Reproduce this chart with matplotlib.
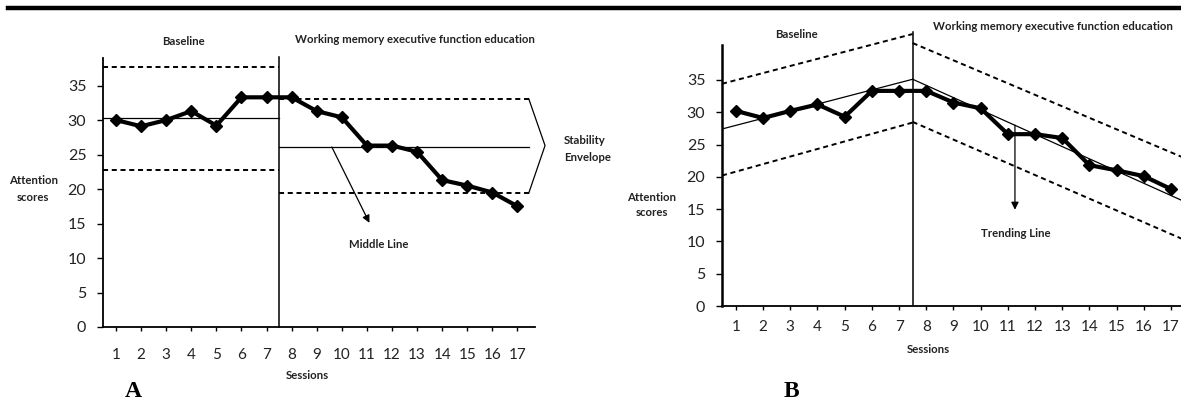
import matplotlib
matplotlib.use("Agg")
import matplotlib.pyplot as plt
from matplotlib.lines import Line2D

# ── data ─────────────────────────────────────────────────────────────────────
sessions = list(range(1, 18))
scores_a = [30.0, 29.1, 30.0, 31.3, 29.2, 33.3, 33.3, 33.3, 31.3, 30.4,
            26.3, 26.3, 25.4, 21.3, 20.5, 19.5, 17.5]
scores_b = [30.2, 29.1, 30.2, 31.2, 29.3, 33.3, 33.3, 33.3, 31.5, 30.6,
            26.6, 26.6, 26.0, 21.8, 21.0, 20.1, 18.1]

phase_x = 7.5

# panel A: middle lines and stability envelope (level per phase)
base_x_a = [0.48, 7.5]
treat_x_a = [7.5, 17.45]
base_mid_a, base_up_a, base_lo_a = 30.3, 37.7, 22.8
treat_mid_a, treat_up_a, treat_lo_a = 26.1, 33.1, 19.4

# panel B: trend lines and envelopes (end values per phase)
base_x_b = [0.49, 7.5]
treat_x_b = [7.5, 18.0]
base_trend_b = [27.4, 35.1]
base_up_b = [34.4, 42.1]
base_lo_b = [20.2, 28.4]
treat_trend_b = [35.1, 15.2]
treat_up_b = [40.7, 22.0]
treat_lo_b = [28.5, 9.3]

y_ticks = [0, 5, 10, 15, 20, 25, 30, 35]
# ─────────────────────────────────────────────────────────────────────────────

plt.rcParams["font.family"] = ["Lato", "DejaVu Sans"]

W, H = 1181, 401
fig = plt.figure(figsize=(W / 100, H / 100), dpi=100)


def place(px_left, px_right, px_bottom, px_top):
    return [px_left / W, 1 - px_bottom / H,
            (px_right - px_left) / W, (px_bottom - px_top) / H]


dash = (0, (2.6, 1.9))
lab = dict(fontsize=8.2, fontweight="bold", color="#222222")


def style_axes(ax, ytop, xpad):
    ax.spines[["top", "right"]].set_visible(False)
    ax.spines["left"].set_bounds(0, ytop)
    ax.spines["left"].set_linewidth(1.3)
    ax.spines["bottom"].set_linewidth(1.3)
    ax.set_xticks(sessions)
    ax.set_yticks(y_ticks)
    ax.tick_params(axis="x", length=3, width=1, pad=xpad, labelsize=11,
                   labelcolor="#222222")
    ax.tick_params(axis="y", length=4, width=1, pad=8, labelsize=11.5,
                   labelcolor="#222222")


# ── panel A ──────────────────────────────────────────────────────────────────
ax1 = fig.add_axes(place(103, 535, 327, 58))
ax1.set_xlim(0.48, 17.7)
ax1.set_ylim(0, 39)
style_axes(ax1, 39, 12)

ax1.plot([phase_x, phase_x], [0, 39.2], color="black", lw=1.1, clip_on=False)
ax1.plot(base_x_a, [base_mid_a] * 2, color="black", lw=0.9)
ax1.plot(base_x_a, [base_up_a] * 2, color="black", lw=1.4, ls=dash)
ax1.plot(base_x_a, [base_lo_a] * 2, color="black", lw=1.4, ls=dash)
ax1.plot(treat_x_a, [treat_mid_a] * 2, color="black", lw=0.9, clip_on=False)
ax1.plot(treat_x_a, [treat_up_a] * 2, color="black", lw=1.4, ls=dash, clip_on=False)
ax1.plot(treat_x_a, [treat_lo_a] * 2, color="black", lw=1.4, ls=dash, clip_on=False)

# bracket for the stability envelope
ax1.plot([17.45, 18.1, 17.45], [treat_up_a, 26.3, treat_lo_a],
         color="black", lw=0.9, clip_on=False)

ax1.plot(sessions, scores_a, color="black", lw=3, marker="D", ms=6,
         clip_on=False, zorder=5)

ax1.annotate("", xy=(11.1, 15.1), xytext=(9.6, 26.1),
             arrowprops=dict(arrowstyle="-|>", color="black", lw=0.9,
                             mutation_scale=11, shrinkA=0, shrinkB=0))
ax1.text(11.46, 11.9, "Middle Line", ha="center", va="center", **lab)
ax1.text(18.85, 25.8, "Stability\nEnvelope", ha="left", va="center",
         linespacing=1.7, clip_on=False, **lab)
ax1.text(3.67, 41.4, "Baseline", ha="center", va="center", **lab)
ax1.text(8.15, 41.65, "Working memory executive function education",
         ha="left", va="center", **lab)
ax1.text(-2.3, 20.0, "Attention\nscores", ha="center", va="center",
         linespacing=1.6, **lab)
ax1.text(8.62, -7.1, "Sessions", ha="center", va="center", **lab)
ax1.text(1.68, -9.3, "A", ha="center", va="center", fontsize=17,
         fontweight="bold", family="Liberation Serif")

# ── panel B ──────────────────────────────────────────────────────────────────
ax2 = fig.add_axes(place(722, 722 + 17.51 * 27.2, 306, 306 - 43 * 6.46))
ax2.set_xlim(0.49, 18.0)
ax2.set_ylim(0, 43)
style_axes(ax2, 40.4, 7)
ax2.spines["left"].set_linewidth(1.8)

ax2.plot([phase_x, phase_x], [0, 42.4], color="black", lw=1.1)
ax2.plot(base_x_b, base_trend_b, color="black", lw=0.9)
ax2.plot(base_x_b, base_up_b, color="black", lw=1.4, ls=dash)
ax2.plot(base_x_b, base_lo_b, color="black", lw=1.4, ls=dash)
ax2.plot(treat_x_b, treat_trend_b, color="black", lw=0.9)
ax2.plot(treat_x_b, treat_up_b, color="black", lw=1.4, ls=dash)
ax2.plot(treat_x_b, treat_lo_b, color="black", lw=1.4, ls=dash)

ax2.plot(sessions, scores_b, color="black", lw=3, marker="D", ms=6,
         clip_on=False, zorder=5)

ax2.annotate("", xy=(11.26, 14.9), xytext=(11.26, 28.0),
             arrowprops=dict(arrowstyle="-|>", color="black", lw=0.9,
                             mutation_scale=11, shrinkA=0, shrinkB=0))
ax2.text(11.3, 11.3, "Trending Line", ha="center", va="center", **lab)
ax2.text(3.24, 42.1, "Baseline", ha="center", va="center", **lab)
ax2.text(8.24, 43.3, "Working memory executive function education",
         ha="left", va="center", clip_on=False, **lab)
ax2.text(-2.1, 15.6, "Attention\nscores", ha="center", va="center",
         linespacing=1.5, **lab)
ax2.text(8.06, -6.8, "Sessions", ha="center", va="center", **lab)
ax2.text(3.06, -13.3, "B", ha="center", va="center", fontsize=17,
         fontweight="bold", family="Liberation Serif")

# thick rule across the top of the page
fig.add_artist(Line2D([8 / W, 1.0], [1 - 7.5 / H] * 2, color="black",
                      lw=3.2, transform=fig.transFigure))

fig.savefig("out.png", dpi=100)
